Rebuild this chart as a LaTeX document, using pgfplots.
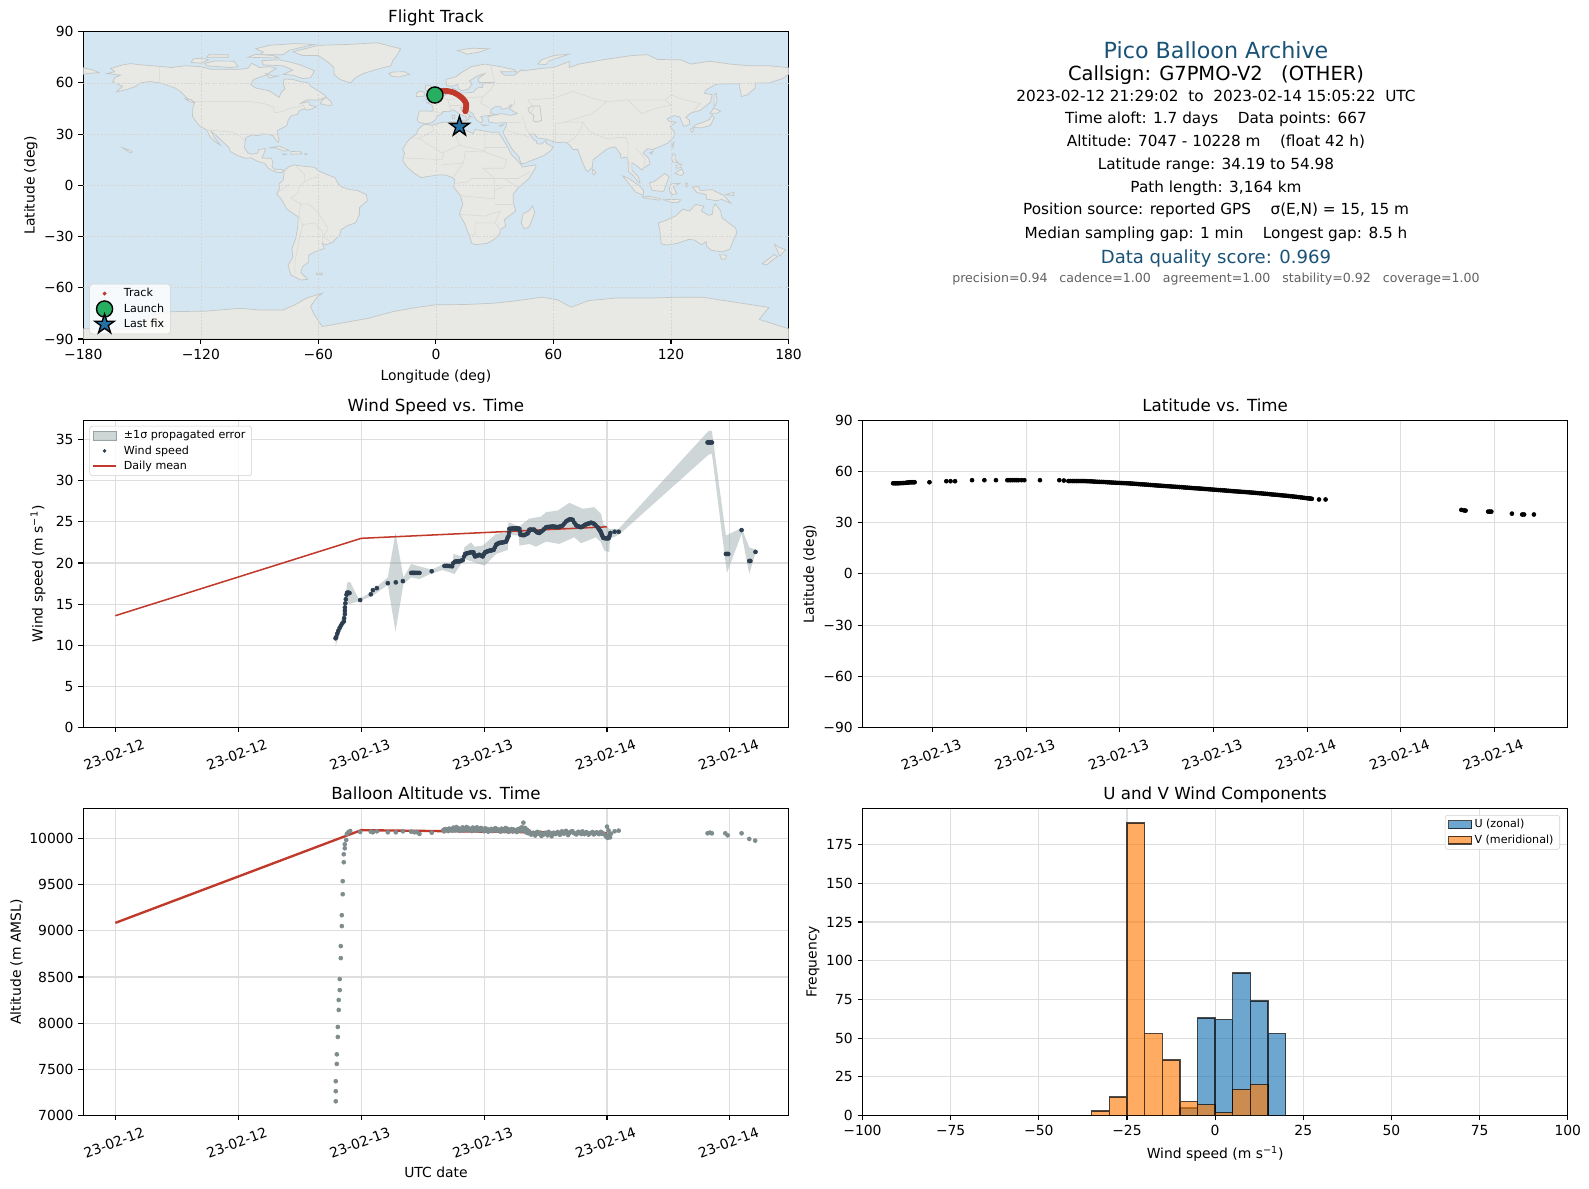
\documentclass[border=0pt]{standalone}
\usepackage{fontspec}
\setmainfont{DejaVu Sans}
\usepackage{pgfplots}
\pgfplotsset{compat=1.18}
\usepackage{xcolor}

\definecolor{ocean}{HTML}{D4E6F1}
\definecolor{landc}{HTML}{E8E8E4}
\definecolor{coast}{HTML}{C2C6C6}
\definecolor{borderc}{HTML}{D8D8D4}
\definecolor{trackred}{HTML}{C0392B}
\definecolor{launchg}{HTML}{27AE60}
\definecolor{starb}{HTML}{2471A3}
\definecolor{windc}{HTML}{2C3E50}
\definecolor{altc}{HTML}{7F8C8D}
\definecolor{bandc}{HTML}{95A5A6}
\definecolor{titleb}{HTML}{1A5276}
\definecolor{gridc}{HTML}{DEDEDE}
\definecolor{ublue}{HTML}{1F77B4}
\definecolor{vorange}{HTML}{FF7F0E}

\pgfdeclareplotmark{fstar}{%
  \pgfpathmoveto{\pgfpointpolar{90}{\pgfplotmarksize}}%
  \pgfpathlineto{\pgfpointpolar{126}{0.382*\pgfplotmarksize}}%
  \pgfpathlineto{\pgfpointpolar{162}{\pgfplotmarksize}}%
  \pgfpathlineto{\pgfpointpolar{198}{0.382*\pgfplotmarksize}}%
  \pgfpathlineto{\pgfpointpolar{234}{\pgfplotmarksize}}%
  \pgfpathlineto{\pgfpointpolar{270}{0.382*\pgfplotmarksize}}%
  \pgfpathlineto{\pgfpointpolar{306}{\pgfplotmarksize}}%
  \pgfpathlineto{\pgfpointpolar{342}{0.382*\pgfplotmarksize}}%
  \pgfpathlineto{\pgfpointpolar{18}{\pgfplotmarksize}}%
  \pgfpathlineto{\pgfpointpolar{54}{0.382*\pgfplotmarksize}}%
  \pgfpathclose\pgfusepathqfillstroke}

\newcommand{\fs}[1]{\fontsize{#1}{#1}\selectfont}
% legend glyphs: a small fixed box, so big markers do not stretch the rows
\newcommand{\legbox}{\pgfpathrectanglecorners{\pgfpoint{0pt}{-2pt}}{\pgfpoint{20.2pt}{2pt}}\pgfusepath{use as bounding box}}
\newcommand{\legboxh}{\pgfpathrectanglecorners{\pgfpoint{0pt}{-2pt}}{\pgfpoint{16.6pt}{2pt}}\pgfusepath{use as bounding box}}

\pgfplotsset{
  panel/.style={
    scale only axis, width=507.8pt, height=221.3pt, anchor=south west,
    axis line style={line width=0.8pt},
    tick style={line width=0.8pt, black},
    major tick length=3.5pt, tick align=outside,
    xtick pos=bottom, ytick pos=left,
    ticklabel style={font=\fs{10}},
    /pgf/number format/assume math mode=true,
    /pgf/number format/1000 sep={},
    scaled ticks=false,
    label style={font=\fs{10}},
    every axis title shift=0pt,
    title style={font=\fs{12}, anchor=base, yshift=6.5pt},
    ylabel shift=-2pt,
    grid=major, major grid style={gridc, line width=0.8pt},
    legend cell align=left,
  },
  leg/.style={legend style={font=\fs{8}, draw=black!18, rounded corners=2pt,
      fill=white, fill opacity=0.8, text opacity=1, inner xsep=2.5pt, inner ysep=1pt, row sep=-0.5pt}},
  timeaxis/.style={
    xtick={0,12,24,36,48,60},
    xticklabels={23-02-12,23-02-12,23-02-13,23-02-13,23-02-14,23-02-14},
    xmin=-3.13, xmax=65.73,
    x tick label style={anchor=center, xshift=-1pt, yshift=-16pt, rotate=20},
  },
  landp/.style={forget plot, draw=coast, line width=0.5pt, fill=landc, mark=none},
  bord/.style={forget plot, draw=borderc, line width=0.4pt, mark=none},
  mgrid/.style={forget plot, draw=black!16, line width=0.4pt, dash pattern=on 1.5pt off 1pt, mark=none},
}
\newcommand{\landpoly}[1]{\addplot[landp] coordinates {#1} -- cycle;}
\newcommand{\bline}[1]{\addplot[bord] coordinates {#1};}

\begin{document}
\begin{tikzpicture}
\useasboundingbox (0,0) rectangle (1589*0.72pt,-1189*0.72pt);

%% Flight track map
\begin{axis}[panel, at={(83.3*0.72pt,-339*0.72pt)},
  title={Flight Track}, xlabel={Longitude (deg)}, ylabel={Latitude (deg)}, xlabel style={yshift=-1pt},
  xmin=-180, xmax=180, ymin=-90, ymax=90,
  xtick={-180,-120,-60,0,60,120,180}, xticklabels={−180,−120,−60,0,60,120,180},
  ytick={-90,-60,-30,0,30,60,90}, yticklabels={−90,−60,−30,0,30,60,90},
  grid=none, axis background/.style={fill=ocean}, leg,
  legend style={at={(0.0085,0.016)}, anchor=south west},
  clip=true,
]
% North America
\landpoly{(-168,65.5)(-164,66.5)(-166,68.5)(-160,70.5)(-156,71.3)(-150,70.5)(-141,69.7)(-135,69)(-128,70)(-120,69.5)(-115,68)(-108,68)(-100,68)(-96,68.5)(-94,71.5)(-90,69)(-85,69.5)(-81.5,68.5)(-85,66)(-87,64.5)(-93,62)(-94.5,59)(-92,57)(-85,55.3)(-82,53)(-80,51.5)(-79,54.5)(-77,56.5)(-78,59)(-77.5,62.3)(-73,62)(-70,61)(-65,60)(-64,58)(-61,56)(-57,53)(-56,51.5)(-60,50)(-66,50)(-69,48)(-65,49)(-64.5,47)(-61,46)(-64,44.5)(-66,44)(-67,45)(-70,43.5)(-70.5,41.7)(-74,40.5)(-75.5,38)(-76,35)(-78,33.8)(-81,32)(-81,30)(-80,26.5)(-80.5,25.2)(-82,27)(-83,29)(-85,29.7)(-89,30.2)(-90,29)(-94,29.5)(-97,28)(-97.5,25)(-97.7,22)(-96,19)(-94,18.2)(-91,18.8)(-90.5,21)(-87,21.5)(-88,18)(-88.8,16)(-84,15.8)(-83.3,14)(-83.7,11)(-82,9)(-79.5,9.5)(-77.5,8.5)(-78.5,7.5)(-80.5,7.5)(-83,8.3)(-85.5,10)(-87.5,13)(-91,14)(-94.5,16.2)(-97,15.8)(-101,17.3)(-105,19.8)(-105.5,22)(-109,25.8)(-112.5,29.5)(-114.8,31.7)(-113,28)(-110,23.5)(-112,25)(-115,28)(-117,32.5)(-120.5,34.5)(-122.5,37.5)(-124.3,40.5)(-124,46)(-123,48.5)(-127,51)(-130,54.5)(-133,57)(-137,58.5)(-140,59.8)(-146,60.8)(-151,60)(-153,58)(-158,56)(-163,54.8)(-160,58)(-165,60.5)(-164,63)(-161,64.5)}
% Arctic islands
\landpoly{(-80,73.5)(-72,71.5)(-68,70)(-62,67)(-64,63)(-68,62.5)(-73,64.5)(-78,65)(-73,67.5)(-78,70)(-88,70.5)(-89,73)}
\landpoly{(-117,70)(-105,69)(-101,69.5)(-103,72.7)(-113,72.8)(-118,71.5)}
\landpoly{(-90,76.5)(-85,76.5)(-78,76.5)(-75,79)(-68,81)(-62,82.5)(-72,83)(-85,82)(-92,80)(-88,78)}
\landpoly{(-125,72)(-120,71.5)(-116,73.5)(-120,74.5)(-124,74)}
\landpoly{(-96,75)(-80,74.5)(-83,76)(-92,76.7)}
\landpoly{(-117,75)(-106,75)(-106,76.5)(-116,76.5)}
\landpoly{(-87,65.5)(-83,64)(-80.5,64)(-85,62.8)}
\landpoly{(-59,47.7)(-55,46.8)(-53,47)(-53.5,49)(-56,51.5)(-58,50)}
\landpoly{(-128,50.7)(-125,50.2)(-123.5,48.5)(-125.5,48.8)}
\landpoly{(-73,78.2)(-68,76)(-60,76)(-55,72)(-52,69)(-52,65)(-49,62)(-43.5,60)(-41,63)(-37,65.5)(-30,68)(-23,70)(-22,73)(-20,76)(-18,80)(-30,83.5)(-45,82.5)(-60,82)(-65,80.5)}
\landpoly{(-85,22)(-80,23)(-75,20.5)(-77.5,20)(-82,22)}
\landpoly{(-74,19.8)(-69,19.7)(-68.5,18.5)(-74,18.2)}
\landpoly{(-78.3,18.4)(-76.3,18.2)(-77.5,17.8)}
\landpoly{(-67,18.5)(-65.7,18.4)(-66,18)(-67,18)}
\landpoly{(-160,22)(-156,20.5)(-155,19.5)(-156,19)}
% South America
\landpoly{(-77.5,8.5)(-75,11)(-72,12)(-70,11.5)(-62,10.5)(-60,8.5)(-55,6)(-51.5,4.5)(-50,1)(-48,-1)(-44,-2.5)(-40,-3)(-35.5,-5.5)(-35,-9)(-39,-13)(-39,-17)(-41,-22)(-45,-23.5)(-48.5,-26)(-49,-29)(-53,-33.5)(-56,-34.8)(-58,-34)(-57,-37)(-62,-39)(-65,-41)(-65,-45)(-68,-47.5)(-69,-51)(-65.5,-55)(-69,-55.5)(-74,-52.5)(-75.5,-47)(-73,-42)(-73.5,-37)(-71.5,-31)(-70.5,-24)(-70.3,-18.5)(-76,-14)(-79,-8)(-81.3,-5)(-80,-2.5)(-80,1)(-78,3)(-77.5,7)}
\landpoly{(-61,-51.5)(-58,-51.3)(-58,-52.2)(-61,-52.3)}
% Africa
\landpoly{(-6,35.8)(-2,35.2)(3,36.8)(10,37.3)(11,35)(10,33.8)(12,32.8)(15,32.3)(19,30.3)(20,32.7)(25,31.7)(29,31)(32,31.2)(32.5,30)(35,25.5)(37,21.5)(38.5,18)(42,14)(43.5,12)(44,10.7)(51,12)(51,10.5)(47.5,4)(42,-1.5)(39.5,-5)(39.5,-10)(40.7,-15)(35,-20)(35.5,-24)(32.8,-26)(32.5,-28.5)(30,-31.5)(26,-34)(20,-34.8)(18.3,-34)(17,-29.5)(14.5,-22)(12,-17)(13.7,-11)(12.5,-6)(9,-1)(9.7,3)(8.5,4.5)(5,6)(1,6)(-4,5.2)(-7.5,4.5)(-11,7)(-15,11)(-17,14.7)(-16,19)(-17,21)(-15,25)(-13,27.5)(-10,30)(-9,33)}
\landpoly{(49.3,-12)(50.5,-16)(47.5,-24.5)(45,-25.5)(43.5,-22)(44.5,-16.5)(47.5,-15)}
% Eurasia
\landpoly{(-9,37)(-6,36.2)(-5.3,36)(-2,36.8)(0,38.7)(0.5,40.5)(3.2,42)(3.5,43.3)(6.5,43.1)(9,44.3)(10.5,43)(12.5,41.5)(15.8,40)(16,38)(17,39)(16.8,40.3)(18.4,40)(16,41.8)(13.5,43.5)(12.5,45.5)(13.7,45.6)(15,44.5)(19,42)(19.5,40)(21,38)(23,36.5)(24,38)(23,40.3)(26,40.8)(29,41)(31,41.3)(28,42)(28,44)(30,46)(33,46)(33.5,44.5)(36.5,45.2)(38,47)(39,47)(37.5,44.8)(41.5,42)(38,41)(33,42)(29,41)(26.5,40)(27,37)(30.5,36.5)(36,36.7)(35.8,34.5)(34.3,31.3)(34.8,29.5)(37,25)(39,21)(42.5,16.5)(43.3,12.8)(45,12.8)(52,16)(55,17.3)(58.8,20.5)(59.8,22.5)(56.5,24.5)(56,26.3)(54,24.2)(51.5,24.3)(51.3,26)(50,26.5)(48,29.8)(50,30.2)(52,27.7)(56.5,27)(61.5,25)(66.5,25.3)(68,23.8)(70,21)(72.5,21)(73,19)(74.5,14.5)(76.5,9)(77.5,8)(79.8,10.5)(80.2,15)(82.5,17)(87,21)(89,22)(91.5,22.5)(94.3,18)(94.3,16)(97.5,16.5)(98.5,12)(98.3,8)(100.5,6)(103.5,1.5)(104.2,1.5)(103.3,5)(100,9)(100,13.3)(103,11)(105,9)(106.5,10.5)(109.3,12.5)(108.5,16)(105.8,19)(108,21.5)(110.5,21)(114,22.5)(118.5,24.8)(121.5,28.5)(121.8,31)(119.5,34.5)(122.5,37)(119,37.5)(118,39)(121.5,40.8)(124.5,40)(125.3,37.7)(126.5,34.5)(129.3,35.5)(129.5,38)(127.5,39.8)(130,42.3)(135,44)(140,48.5)(141,53)(137,54)(138,56)(143,59.2)(149,59.5)(155,59.5)(155,57.5)(156,52)(159,53)(163,57)(163,60)(170,60)(177,62.5)(180,65)(180,68.9)(170,70)(160,70)(150,71)(140,72.7)(130,71)(125,73.5)(113,73.7)(108,76.5)(100,76)(85,73.5)(78,72)(73,71)(68,69)(68,72.5)(60,69)(54,68.5)(44,67)(44,68)(40,64.5)(35,64.5)(33,66.5)(41,66.5)(40,67.7)(33,69.5)(25,71)(18,69.5)(13,66)(10,63.5)(5,62)(5.5,58.5)(8,58)(11,59)(11.5,56.5)(13,55.5)(16.5,56.2)(18.5,59.5)(17,61)(21,64)(25,65.5)(21.5,62.5)(22,60.2)(30,60.2)(23.5,59.3)(24,57.5)(21,57)(19,54.5)(14,54)(11,54)(10.5,56)(8.5,57)(8.5,55)(8.5,53.8)(5,53.2)(3.5,51.5)(1.5,50.8)(-1.5,49.5)(-1.5,48.7)(-4.7,48.5)(-2,47)(-1.2,44.5)(-2,43.4)(-8.5,43.6)(-9,41)(-9.5,38.7)}
\landpoly{(47,45)(49,46.5)(53,46.5)(53.5,42)(54,38)(51,37)(49.5,38)(50,41)(47.5,43)}
\landpoly{(-180,68.9)(-175,67.5)(-172,66)(-178,65.5)(-180,65)}
% European and Asian islands
\landpoly{(-5.5,50)(1.3,51.2)(1.7,52.7)(0,53.5)(-1.5,55)(-2,57)(-3,58.6)(-5.2,58.5)(-5.5,56)(-3,54.5)(-4.5,53)(-5,51.8)(-3,51.3)}
\landpoly{(-10,52)(-6,52.2)(-6,54.5)(-8,55.2)(-10,54)}
\landpoly{(-24,65.5)(-22,66.4)(-16,66.5)(-13.5,65)(-19,63.4)(-22.5,63.9)}
\landpoly{(11,79)(16,76.8)(22,78)(27,80)(18,80.3)}
\landpoly{(52,71)(56,70.7)(58,73)(68,76.8)(60,76)(54,73.5)}
\landpoly{(12.5,38)(15.5,38.2)(15,36.7)}
\landpoly{(8.3,41)(9.7,41)(9.5,39)(8.5,39)}
\landpoly{(23.5,35.5)(26.3,35.2)(24.5,34.9)}
\landpoly{(32.3,35)(34.5,35.6)(33.5,34.6)}
\landpoly{(80,9.5)(81.8,7.5)(80.5,6)(79.8,7.5)}
\landpoly{(131,34)(135,33.6)(140,35)(142,39.5)(141,41.3)(139.5,38.5)(136.5,37)(132.5,35.4)}
\landpoly{(130,33.3)(131.7,33)(131,31.2)(130,32)}
\landpoly{(140,42)(141.7,45.3)(145.3,43.5)(143,42)}
\landpoly{(142,46)(143.5,49)(143,54)(142,53)(142,48)}
\landpoly{(120.2,23)(121.5,25.2)(121,22)}
\landpoly{(109,19)(110.8,20)(110,18.3)}
\landpoly{(120.3,16)(121,18.5)(122.2,18)(122,15)(124,13)(120.8,13.8)}
\landpoly{(122,7)(125.5,9.7)(126.5,7)(125,5.7)}
\landpoly{(122.5,11.5)(125.5,12.5)(125,10.5)(122.8,10)}
\landpoly{(109,1.5)(111,2)(113.5,4)(116.8,7)(119,5)(117.7,1)(116.3,-3.5)(114,-3.5)(110.2,-2.8)}
\landpoly{(95.3,5.5)(98.5,4)(103.5,0)(106,-3)(105.8,-5.8)(102,-4)(98.5,1)}
\landpoly{(105.3,-6.7)(108.5,-6.5)(114.5,-7.7)(114.3,-8.7)(106.5,-7.5)}
\landpoly{(119.8,0.8)(124.5,1.2)(121,-0.8)(123,-4.8)(120.5,-5.5)(119,-3)}
\landpoly{(131,-1)(134,-0.8)(135,-3)(141,-2.6)(147,-6)(150.5,-10.5)(146,-8.3)(143,-9)(138,-8)(138,-5.5)(133,-4)}
\landpoly{(116,-8.4)(120,-8.3)(125,-8.4)(123.5,-10.2)(120,-10)}
\landpoly{(127.5,1.5)(128.5,1)(128,-1)(127.5,-0.5)}
\landpoly{(148,-5.5)(152,-4)(152,-6)}
% Australia and New Zealand
\landpoly{(113.5,-22)(114.2,-26)(115,-34.3)(118,-35)(123.5,-33.9)(129,-31.7)(132,-32)(135.5,-34.8)(138,-33)(138,-35.5)(140.5,-38)(146,-39)(150,-37.5)(151.5,-33)(153.5,-28)(153,-25)(149.5,-22)(146,-19)(145.3,-15)(142.6,-10.8)(141.5,-13)(141,-17)(139,-17.5)(135.5,-15)(136.8,-12.2)(132.5,-11.2)(129.5,-15)(126,-14)(122.3,-18)(117,-20.7)}
\landpoly{(144.7,-40.7)(148.2,-40.8)(148,-43)(146,-43.5)}
\landpoly{(172.8,-34.5)(175.5,-36.5)(178.5,-37.7)(175.5,-41.5)(174.8,-39.5)}
\landpoly{(172.7,-40.5)(174.3,-41.7)(171,-44.5)(169,-46.6)(166.5,-46)(170,-43)}
% Antarctica
\landpoly{(-180,-90)(-180,-84)(-150,-84)(-146,-76)(-135,-74)(-118,-73.7)(-100,-72)(-90,-73)(-78,-73)(-72,-70)(-66,-66)(-58,-63.2)(-61,-66)(-64,-71)(-62,-76)(-58,-82.7)(-45,-80)(-35,-78)(-22,-74)(-10,-71.5)(0,-70)(15,-69.8)(30,-69)(42,-67.5)(54,-65.5)(62,-67)(69,-71.4)(78,-67.5)(92,-66)(110,-66)(125,-65.5)(136,-65.5)(150,-68)(170,-71.5)(165,-78.5)(180,-84)(180,-90)}
% Borders
\bline{(-141,69.7)(-141,60)(-137,58.7)(-130,55)}
\bline{(-123,49)(-95,49)(-88,48)(-83,46)(-82.5,42.5)(-79,43)(-75,45)(-70,46)(-67.5,47)(-67,45)}
\bline{(-117,32.5)(-108,31.5)(-106,31.7)(-101,29.7)(-97.5,26)}
\bline{(-70,-18)(-69,-11)(-74,-7.5)(-70,-4)(-70,-1)(-67,2)(-64,4)(-60,5)}
\bline{(-58,-20)(-60,-16)(-65,-11)(-69,-11)}
\bline{(-58,-20)(-55,-25)(-57.5,-30)(-53.5,-33.5)}
\bline{(-70,-18)(-68,-23)(-70,-33)(-72,-45)(-72,-52)}
\bline{(-68,-23)(-62,-22)(-58,-27)(-58,-34)}
\bline{(-75,0.5)(-80,-3.5)}
\bline{(-72,12)(-67,6)(-67,2)}
\bline{(-8.7,27.5)(-1,32)(-2,35)}
\bline{(-13,27.7)(-8.7,27.5)(3,19)(12,23.5)(10,30)(8.5,36.9)}
\bline{(12,23.5)(25,20)(25,31.5)}
\bline{(25,22)(37,22)}
\bline{(-16,16)(-5,15.5)(3,15)(4,19)}
\bline{(3,12)(14,13)(15,20)(24,19.5)}
\bline{(14,13)(9,5)}
\bline{(24,10)(35,10)(36,15)(24,20)}
\bline{(24,10)(30,4)(35,4)(42,-1.5)}
\bline{(35,4)(42,4)(48,8)}
\bline{(12,-6)(30,-8)(30,4)(18,4)(16,2)(9,1)}
\bline{(30,-11)(40,-11)}
\bline{(12,-17)(25,-18)(33,-15)(30,-22)(20,-22)(20,-29)(17,-29)}
\bline{(30,-22)(33,-26)}
\bline{(34,-1)(30,-3)(30,-8)}
\bline{(44,37)(36,36.7)}
\bline{(44,40)(45,38)(46,33)(48,30)}
\bline{(36,32)(46,29)(48,28)}
\bline{(61,25)(61,36)(66,37)(75,37)(78,32)(81,30)(88,27)(92,28)(97,28)(98,24)(98,10)}
\bline{(67,25)(71,28)(74,33)(75,37)}
\bline{(48,42)(50,45)(47,50)(60,51)(70,55)(80,51)(87,49)(98,50)(107,50)(117,50)(120,53)(127,50)(135,48)(131,43)}
\bline{(87,49)(80,42)(74,40)(66,37)}
\bline{(98,50)(105,42)(112,45)(120,47)(117,50)}
\bline{(28,70)(30,60)(28,56)(24,52)(23,48)(28,45)}
\bline{(24,52)(14,51)(14,54)}
\bline{(14,51)(6,50)(2.5,51)}
\bline{(6,50)(7.5,44)}
\bline{(-2,43.3)(3,42.5)}
\bline{(14,47)(7,47)}
\bline{(40,50)(40,47)}
\bline{(102,22)(105,18)(107,15)(106,11)}
% Grid over the land
\addplot[mgrid] coordinates {(-120,-90)(-120,90)};
\addplot[mgrid] coordinates {(-60,-90)(-60,90)};
\addplot[mgrid] coordinates {(0,-90)(0,90)};
\addplot[mgrid] coordinates {(60,-90)(60,90)};
\addplot[mgrid] coordinates {(120,-90)(120,90)};
\addplot[mgrid] coordinates {(-180,-60)(180,-60)};
\addplot[mgrid] coordinates {(-180,-30)(180,-30)};
\addplot[mgrid] coordinates {(-180,0)(180,0)};
\addplot[mgrid] coordinates {(-180,30)(180,30)};
\addplot[mgrid] coordinates {(-180,60)(180,60)};
% Track
\addplot[forget plot, only marks, mark=*, mark size=1.9pt, trackred, mark options={draw=none}] coordinates {
(0,53.1)(1,54.4)(2,54.9)(3,55.2)(4,55.4)(5,55.3)(6,55.2)(7,55)(8,54.7)(9,54.4)(9.8,53.9)(10.6,53.4)
(11.4,52.9)(12.1,52.3)(12.8,51.7)(13.4,51.1)(13.9,50.5)(14.4,49.8)(14.8,49.2)(15.1,48.5)(15.4,47.8)(15.5,47.1)
(15.5,46.4)(15.4,45.7)(15.3,45)(15.2,44.4)(15.1,43.8)(15,43.4)};
\addlegendimage{legend image code/.code={\legbox\fill[trackred, fill opacity=1] (8.3pt,0pt) circle (1.2pt);}}
\addlegendentry{Track}
\addplot[forget plot, only marks, mark=*, mark size=5.8pt, mark options={fill=launchg, draw=black, line width=1pt}] coordinates {(-0.5,52.9)};
\addlegendimage{legend image code/.code={\legbox\draw[fill=launchg, draw=black, line width=1pt, fill opacity=1, draw opacity=1] (8.3pt,0pt) circle (5.8pt);}}
\addlegendentry{Launch}
\addplot[forget plot, only marks, mark=fstar, mark size=7.4pt, mark options={fill=starb, draw=black, line width=1pt}] coordinates {(12,34.4)};
\addlegendimage{legend image code/.code={\legbox\draw[fill=starb, draw=black, line width=1pt, fill opacity=1, draw opacity=1] plot[mark=fstar, mark size=7.4pt, mark options={fill=starb, draw=black, fill opacity=1, draw opacity=1}] coordinates {(8.3pt,0pt)};}}
\addlegendentry{Last fix}
\end{axis}

%% Wind speed
\begin{axis}[panel, timeaxis, at={(83.3*0.72pt,-727.6*0.72pt)},
  title={Wind Speed vs. Time}, ylabel={Wind speed (m s\textsuperscript{−1})}, ylabel shift=0.5pt,
  ymin=0, ymax=37.35, ytick={0,5,...,35}, leg,
  legend style={at={(0.0085,0.982)}, anchor=north west},
]
\addplot[forget plot, fill=bandc, fill opacity=0.45, draw=none] coordinates {
(21.50,11.14)(22.05,12.97)(22.37,14.59)(22.63,17.64)(22.93,17.68)(23.77,15.61)(24.94,16.42)(25.63,17.24)(26.60,18.25)(27.35,23.66)(28.13,18.25)(28.88,19.88)(29.69,19.59)(30.89,19.19)(32.03,19.88)(32.94,20.08)(33.01,21.10)(33.92,20.77)(34.08,21.91)(34.73,22.52)(35.06,21.99)(35.87,22.11)(37.17,23.54)(38.21,23.74)(38.41,24.96)(39.45,24.43)(40.36,25.37)(41.56,25.65)(42.05,26.18)(43.19,26.38)(44.33,27.32)(45.63,26.59)(46.76,26.79)(47.41,25.98)(47.64,24.76)(48.23,24.15)(49.14,24.15)(57.92,36.06)(58.24,36.06)(59.61,23.33)(61.14,24.27)(61.89,21.91)(62.54,21.63)
(62.47,21.10)(61.89,18.66)(61.14,23.54)(59.71,18.78)(58.24,33.29)(57.92,33.17)(49.20,23.46)(48.29,22.93)(48.23,21.34)(47.74,21.50)(47.41,22.52)(46.93,23.13)(45.46,22.40)(44.81,23.13)(43.35,22.32)(42.05,22.60)(41.07,21.99)(40.42,22.32)(39.45,22.11)(39.38,23.33)(38.41,23.46)(38.31,21.59)(37.17,21.10)(36.03,19.67)(35.06,20.08)(34.08,20.49)(33.11,18.66)(31.97,19.15)(30.89,18.74)(29.69,18.05)(28.88,18.25)(28.13,17.44)(27.35,11.67)(26.60,17.36)(25.14,16.02)(23.90,15.41)(22.86,15.00)(22.41,15.41)(22.15,12.36)(21.50,9.84)
} -- cycle;
\addlegendimage{legend image code/.code={\legbox\fill[bandc, fill opacity=0.45, sharp corners] (0pt,-3.2pt) rectangle (16.6pt,3.2pt);}}
\addlegendentry{±1σ propagated error}
\addplot[forget plot, only marks, mark=*, mark size=1.45pt, windc, mark options={draw=none}] coordinates {
(21.50,10.85)(21.56,11.0)(21.66,11.4)(21.76,11.75)(21.89,12.1)(22.02,12.4)(22.15,12.65)(22.31,12.9)(22.34,13.3)(22.41,13.8)(22.41,14.2)(22.41,14.6)(22.46,15.1)(22.50,15.6)(22.57,16.15)(22.63,16.4)(22.76,16.4)(22.86,16.35)(23.90,15.5)(24.94,16.2)(25.14,16.7)(25.53,16.95)(26.60,17.55)(27.38,17.65)(28.07,17.8)
(28.88,18.8)(29.0,18.8)(29.1,18.8)(29.22,18.8)(29.35,18.8)(29.5,18.8)(29.69,18.8)(30.89,19.0)(32.13,19.65)(32.3,19.65)(32.45,19.65)(32.65,19.62)(32.88,19.6)(33.0,20.0)(33.14,20.15)(33.25,20.18)(33.35,20.2)(33.5,20.2)(33.6,20.2)(33.75,20.28)(33.92,20.35)
(34.05,20.8)(34.15,21.1)(34.27,21.15)(34.4,21.2)(34.55,21.25)(34.73,21.3)(34.85,21.3)(34.96,21.3)(35.05,21.0)(35.12,20.8)(35.22,20.85)(35.33,20.9)(35.44,20.95)(35.54,21.0)(35.7,20.9)(35.87,20.8)(36.0,21.1)(36.1,21.3)(36.2,21.35)(36.3,21.4)(36.4,21.45)(36.52,21.5)(36.63,21.52)(36.74,21.55)(36.84,21.58)(36.94,21.6)(37.05,21.9)(37.17,22.2)(37.25,22.28)(37.33,22.35)(37.42,22.4)(37.5,22.45)(37.65,22.48)(37.82,22.5)(38.0,22.55)(38.15,22.6)(38.24,22.85)(38.31,23.1)(38.4,23.3)(38.44,23.7)(38.47,24.15)(38.62,24.18)(38.8,24.2)(38.92,24.2)(39.05,24.2)(39.17,24.2)(39.28,24.2)(39.37,24.18)(39.45,24.15)(39.5,23.8)(39.55,23.45)(39.65,23.42)(39.75,23.4)(39.85,23.4)(39.93,23.4)(40.1,23.5)(40.26,23.6)(40.35,23.8)(40.42,24.05)(40.53,24.05)(40.65,24.05)(40.78,24.05)(40.9,24.05)(41.02,23.9)(41.14,23.75)(41.27,23.7)(41.4,23.65)(41.55,23.8)(41.72,23.95)(41.88,24.15)(42.05,24.35)(42.2,24.38)(42.35,24.4)(42.52,24.42)(42.7,24.45)(42.82,24.42)(42.95,24.4)(43.07,24.38)(43.19,24.35)(43.32,24.4)(43.45,24.45)(43.56,24.5)(43.67,24.55)(43.84,24.8)(44,25.05)(44.17,25.18)(44.33,25.3)(44.5,25.3)(44.65,25.25)(44.82,24.9)(44.98,24.6)(45.1,24.5)(45.2,24.45)(45.33,24.4)(45.46,24.35)(45.58,24.42)(45.7,24.5)(45.82,24.6)(45.95,24.7)(46.08,24.75)(46.2,24.8)(46.32,24.85)(46.44,24.9)(46.6,24.85)(46.76,24.75)(46.92,24.55)(47.09,24.35)(47.17,24.2)(47.25,24.05)(47.33,23.9)(47.41,23.75)(47.48,23.5)(47.55,23.3)(47.64,23.05)(47.77,23.02)(47.9,23.0)(48.03,23.0)(48.16,23.0)(48.25,23.3)(48.33,23.65)(48.75,23.8)(49.14,23.8)
(57.82,34.65)(57.9,34.65)(58.0,34.65)(58.12,34.65)(58.25,34.65)(59.61,21.1)(59.72,21.1)(59.84,21.1)(61.14,24.0)(61.89,20.25)(62.0,20.25)(62.5,21.35)};
\addlegendimage{legend image code/.code={\legbox\fill[windc, fill opacity=1] (8.3pt,0pt) circle (1.1pt);}}
\addlegendentry{Wind speed}
\addplot[forget plot, trackred, line width=1.1pt] coordinates {(0,13.6)(24,23.0)(48,24.4)};
\addlegendimage{legend image code/.code={\legbox\draw[trackred, line width=1.1pt, draw opacity=1] (0pt,0pt) -- (16.6pt,0pt);}}
\addlegendentry{Daily mean}
\end{axis}

%% Latitude
\begin{axis}[panel, at={(862.5*0.72pt,-727.6*0.72pt)},
  title={Latitude vs. Time}, ylabel={Latitude (deg)},
  xmin=19.51, xmax=64.7, ymin=-90, ymax=90,
  xtick={24,30,36,42,48,54,60},
  xticklabels={23-02-13,23-02-13,23-02-13,23-02-13,23-02-14,23-02-14,23-02-14},
  x tick label style={anchor=center, xshift=-1pt, yshift=-16pt, rotate=20},
  ytick={-90,-60,-30,0,30,60,90}, yticklabels={−90,−60,−30,0,30,60,90},
]
\addplot[only marks, mark=*, mark size=1.45pt, black, mark options={draw=none}] coordinates {
(21.47,53.1)(21.56,53.1)(21.65,53.1)(21.74,53.1)(21.82,53.1)(21.93,53.15)(22.04,53.2)(22.15,53.25)(22.26,53.3)(22.34,53.4)(22.41,53.5)(22.49,53.6)(22.56,53.7)(22.63,53.7)(22.7,53.7)(22.78,53.7)(22.85,53.7)
(23.8,53.7)(24.88,54.3)(25.15,54.3)(25.44,54.3)(26.53,54.9)(27.32,54.9)(28.06,54.9)
(28.79,54.9)(28.9,54.9)(29.0,54.9)(29.12,54.9)(29.25,54.9)(29.38,54.9)(29.5,54.9)(29.7,54.9)(29.88,54.9)(30.88,54.9)(32.12,54.9)(32.41,54.7)
(32.7,54.4)(32.82,54.4)(32.95,54.4)(33.08,54.4)(33.2,54.4)(33.32,54.4)(33.45,54.4)(33.58,54.4)(33.7,54.4)(33.82,54.35)(33.95,54.3)(34.08,54.25)(34.2,54.2)(34.32,54.1)(34.45,54.0)(34.58,53.95)(34.7,53.9)(34.82,53.88)(34.95,53.85)(35.08,53.78)(35.2,53.7)(35.32,53.62)(35.45,53.55)(35.58,53.48)(35.7,53.4)(35.82,53.35)(35.95,53.3)(36.08,53.25)(36.2,53.2)(36.32,53.15)(36.45,53.1)(36.58,53.02)(36.7,52.95)(36.82,52.88)(36.95,52.8)(37.08,52.7)(37.2,52.6)(37.32,52.52)(37.45,52.45)(37.58,52.38)(37.7,52.3)(37.82,52.2)(37.95,52.1)(38.08,52.02)(38.2,51.95)(38.32,51.85)(38.45,51.75)(38.58,51.68)(38.7,51.6)(38.82,51.52)(38.95,51.45)(39.08,51.38)(39.2,51.3)(39.32,51.2)(39.45,51.1)(39.58,51.02)(39.7,50.95)(39.82,50.88)(39.95,50.8)(40.08,50.7)(40.2,50.6)(40.32,50.52)(40.45,50.45)(40.58,50.35)(40.7,50.25)(40.82,50.18)(40.95,50.1)(41.08,50.02)(41.2,49.95)(41.32,49.85)(41.45,49.75)(41.58,49.68)(41.7,49.6)(41.82,49.5)(41.95,49.4)(42.08,49.3)(42.2,49.2)(42.32,49.12)(42.45,49.05)(42.58,48.98)(42.7,48.9)(42.82,48.8)(42.95,48.7)(43.08,48.6)(43.2,48.5)(43.32,48.42)(43.45,48.35)(43.58,48.25)(43.7,48.15)(43.82,48.08)(43.95,48)(44.08,47.92)(44.2,47.85)(44.32,47.75)(44.45,47.65)(44.58,47.55)(44.7,47.45)(44.82,47.35)(44.95,47.25)(45.08,47.15)(45.2,47.05)(45.32,46.95)(45.45,46.85)(45.58,46.72)(45.7,46.6)(45.82,46.5)(45.95,46.4)(46.08,46.3)(46.2,46.2)(46.32,46.08)(46.45,45.95)(46.58,45.85)(46.7,45.75)(46.82,45.62)(46.95,45.5)(47.08,45.38)(47.2,45.25)(47.32,45.12)(47.45,45)(47.58,44.85)(47.7,44.7)(47.82,44.55)(47.95,44.4)(48.05,44.3)(48.15,44.2)(48.22,44.1)(48.3,44)
(48.76,43.6)(49.18,43.6)(57.88,37.5)(58.05,37.2)(58.15,37.1)(59.6,36.5)(59.7,36.5)(59.8,36.5)(61.12,35.3)(61.78,34.8)(61.9,34.8)(62.53,34.8)};
\end{axis}

%% Altitude
\begin{axis}[panel, timeaxis, at={(83.3*0.72pt,-1115.6*0.72pt)},
  title={Balloon Altitude vs. Time}, xlabel={UTC date}, ylabel={Altitude (m AMSL)}, xlabel style={yshift=1.5pt},
  ymin=7000, ymax=10325, ytick={7000,7500,...,10000},
]
\addplot[only marks, mark=*, mark size=1.45pt, altc, mark options={draw=none}] coordinates {
(21.52,7155)(21.52,7264)(21.52,7372)(21.62,7559)(21.62,7663)(21.72,7851)(21.72,7959)(21.81,8143)(21.81,8251)(21.91,8358)(21.91,8477)(22.01,8704)(22.01,8834)(22.11,9050)(22.11,9168)(22.2,9395)(22.2,9536)(22.3,9741)(22.3,9827)(22.4,9892)(22.4,9935)(22.54,9982)(22.6,10046)(22.76,10068)(22.93,10079)
(23.9,10068)(24.94,10072)(25.14,10065)(25.53,10076)(26.6,10065)(27.38,10065)(28.07,10076)(28.88,10072)(29.2,10065)(29.43,10068)(29.69,10047)(30.89,10061)
(32.03,10090)(32.2,10100)(32.4,10095)(32.6,10105)(32.8,10098)(33.0,10115)(33.15,10102)(33.3,10122)(33.5,10108)(33.7,10098)(33.9,10118)(34.1,10105)(34.3,10122)(34.5,10110)(34.7,10095)(34.9,10116)(35.1,10104)(35.3,10118)(35.5,10100)(35.7,10112)(35.9,10095)(36.1,10108)(36.3,10100)(36.5,10088)(36.7,10102)(36.9,10095)(37.1,10110)(37.3,10098)(37.5,10088)(37.7,10104)(37.9,10096)(38.1,10112)(38.3,10102)(38.5,10090)(38.7,10100)(38.9,10094)(39.1,10086)(39.3,10098)(39.5,10106)(39.84,10169)(39.7,10120)(40.0,10112)(40.2,10092)
(32.1,10075)(32.5,10078)(32.9,10082)(33.2,10085)(33.6,10080)(34.0,10084)(34.4,10088)(34.8,10078)(35.2,10082)(35.6,10086)(36.0,10076)(36.4,10072)(36.8,10078)(37.2,10082)(37.6,10072)(38.0,10078)(38.4,10070)(38.8,10074)(39.2,10068)(39.6,10080)(39.9,10085)(40.1,10065)(40.3,10055)
(40.4,10075)(40.6,10040)(40.8,10060)(41.0,10030)(41.2,10070)(41.4,10050)(41.6,10025)(41.8,10040)(42.0,10060)(42.2,10032)(42.4,10055)(42.6,10022)(42.8,10060)(43.0,10045)(43.2,10068)(43.4,10038)(43.6,10075)(43.8,10050)(44.0,10080)(44.2,10035)(44.4,10068)(44.6,10078)(44.8,10055)(45.0,10042)(45.2,10070)(45.4,10060)(45.6,10074)(45.8,10045)(46.0,10066)(46.2,10040)(46.4,10058)(46.6,10068)(46.8,10050)(47.0,10065)(47.2,10045)(47.4,10070)(47.6,10055)(47.8,10040)
(41.1,10048)(41.5,10062)(41.9,10050)(42.3,10070)(42.7,10044)(43.1,10058)(43.5,10052)(43.9,10066)(44.3,10054)(44.7,10062)(45.1,10052)(45.5,10046)(45.9,10060)(46.3,10052)(46.7,10042)(47.1,10056)(47.5,10048)
(47.9,10020)(48.0,10126)(48.05,10005)(48.15,10085)(48.2,10040)(48.3,10010)(48.4,10050)(48.75,10076)(49.14,10083)
(57.82,10054)(58.05,10061)(58.24,10054)(59.55,10054)(59.78,10032)(61.14,10054)(61.89,9993)(62.47,9975)};
\addplot[trackred, line width=1.7pt] coordinates {(0,9085)(24,10088)(48,10056)};
\end{axis}

%% Histogram
\begin{axis}[panel, at={(862.5*0.72pt,-1115.6*0.72pt)},
  title={U and V Wind Components}, xlabel={Wind speed (m s\textsuperscript{−1})}, ylabel={Frequency}, xlabel style={yshift=-1pt},
  xmin=-100, xmax=100, ymin=0, ymax=198.45,
  xtick={-100,-75,...,100}, xticklabels={−100,−75,−50,−25,0,25,50,75,100},
  ytick={0,25,...,175}, leg,
  legend style={at={(0.989,0.978)}, anchor=north east},
]
\addplot[forget plot, ybar interval, fill=ublue, fill opacity=0.65, draw=black, draw opacity=0.7, line width=1pt] coordinates {
(-10,5)(-5,63)(0,62)(5,92)(10,74)(15,53)(20,0)};
\addlegendimage{legend image code/.code={\legboxh\draw[fill=ublue, fill opacity=0.65, draw=black, draw opacity=0.7, line width=0.8pt, sharp corners] (0pt,-2.8pt) rectangle (16.6pt,2.8pt);}}
\addlegendentry{U (zonal)}
\addplot[forget plot, ybar interval, fill=vorange, fill opacity=0.65, draw=black, draw opacity=0.7, line width=1pt] coordinates {
(-35,3)(-30,12)(-25,189)(-20,53)(-15,36)(-10,9)(-5,7)(0,2)(5,17)(10,20)(15,0)};
\addlegendimage{legend image code/.code={\legboxh\draw[fill=vorange, fill opacity=0.65, draw=black, draw opacity=0.7, line width=0.8pt, sharp corners] (0pt,-2.8pt) rectangle (16.6pt,2.8pt);}}
\addlegendentry{V (meridional)}
\end{axis}

%% Summary block
\node[font=\fs{16}, text=titleb] at (1216*0.72pt,-50.7*0.72pt) {Pico Balloon Archive};
\node[font=\fs{14}] at (1216*0.72pt,-75*0.72pt) {Callsign: G7PMO-V2 \ \ (OTHER)};
\node[font=\fs{11}] at (1216*0.72pt,-95.6*0.72pt) {2023-02-12 21:29:02 \ to \ 2023-02-14 15:05:22 \ UTC};
\node[font=\fs{11}] at (1216*0.72pt,-119.2*0.72pt) {Time aloft: 1.7 days \ \ \ Data points: 667};
\node[font=\fs{11}] at (1216*0.72pt,-141.8*0.72pt) {Altitude: 7047 - 10228 m \ \ \ (float 42 h)};
\node[font=\fs{11}] at (1216*0.72pt,-165.2*0.72pt) {Latitude range: 34.19 to 54.98};
\node[font=\fs{11}] at (1216*0.72pt,-188.4*0.72pt) {Path length: 3,164 km};
\node[font=\fs{11}] at (1216*0.72pt,-210.6*0.72pt) {Position source: reported GPS \ \ \ σ(E,N) = 15, 15 m};
\node[font=\fs{11}] at (1216*0.72pt,-234*0.72pt) {Median sampling gap: 1 min \ \ \ Longest gap: 8.5 h};
\node[font=\fs{13}, text=titleb] at (1216*0.72pt,-258.3*0.72pt) {Data quality score: 0.969};
\node[font=\fs{9.05}, text=black!62] at (1216*0.72pt,-279*0.72pt) {precision=0.94 \ \ cadence=1.00 \ \ agreement=1.00 \ \ stability=0.92 \ \ coverage=1.00};
\end{tikzpicture}
\end{document}
